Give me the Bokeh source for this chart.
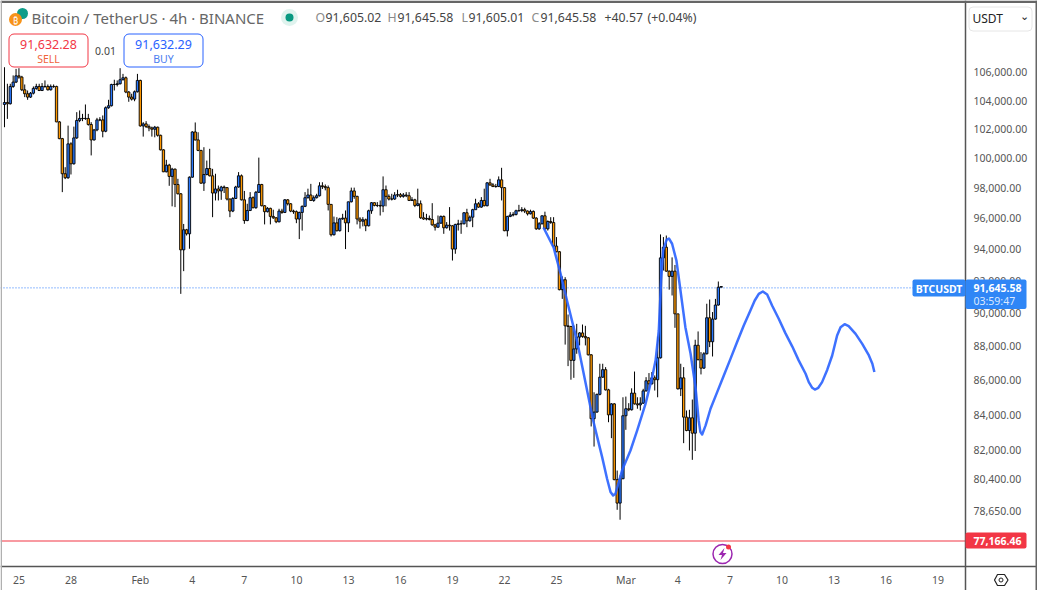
from bokeh.plotting import figure
from bokeh.models import (Range1d, FixedTicker, NumeralTickFormatter, Label, LinearAxis, LogAxis,
                          BoxAnnotation, PolyAnnotation)
from bokeh.embed import file_html
from bokeh.resources import INLINE

opens = [103720,103860,103770,105000,105310,105760,105670,104760,104480,104240,
104520,104860,105000,104710,105000,105000,104760,105000,105000,102500,
101340,98950,98680,100980,99620,101390,102600,102740,102740,102740,
102320,101250,101940,102640,102640,101850,103490,103630,105140,105140,
105190,105480,105620,104600,104240,104100,104620,105430,102220,102360,
102170,102080,101990,102130,101570,100570,99080,99530,98770,99260,
98230,97610,93960,95250,94990,98720,101800,101250,100530,98320,
98900,99300,98810,97660,97930,97800,98060,98020,97260,96470,
97300,98060,98810,97210,95850,96510,97350,96690,97710,98230,
96820,96430,96650,96120,96030,95770,96470,96380,97210,96950,
96470,96430,95950,96380,96780,97350,97530,97170,97350,97480,
98140,98090,98020,96910,94930,95700,95190,95960,96010,95700,
97080,97800,97440,95950,95810,95900,95510,96490,97020,96840,
96840,96800,97880,97440,97260,97260,97530,97550,97440,97530,
97480,97170,97210,96840,96950,96030,95950,95990,95920,95570,
95420,95680,96120,95380,95550,95510,94010,95600,95640,95640,
96360,95830,96070,96560,96950,96730,97170,96820,98340,98200,
98090,98090,98540,98020,95190,96120,96210,96250,96490,96510,
96560,96470,96290,96450,96010,95310,95640,96160,95310,95790,
95720,94200,93840,91450,92070,89230,89190,87160,87840,88550,
88800,88590,88510,87490,83770,84150,85170,86170,86610,85430,
83990,84620,80370,79100,80420,83940,84340,84280,85240,84620,
84560,84660,85370,85960,85780,86130,86020,87310,93450,94130,
92610,92280,92610,89960,85490,86130,83860,83100,83820,82950,
88060,87200,86700,87550,89720,88270,89640,90500,91605.02]

closes = [103860,103770,105000,105310,105760,105670,104760,104480,104240,104520,
104860,105000,104710,105000,105000,104760,105000,105000,102500,101340,
98950,98680,100980,99620,101390,102600,102740,102740,102740,102320,
101250,101940,102640,102640,101850,103490,103630,105140,105140,105190,
105480,105620,104600,104240,104100,104620,105430,102220,102360,102170,
102080,101990,102130,101570,100570,99080,99530,98770,99260,98230,
97610,93960,95250,94990,98720,101800,101250,100530,98320,98900,
99300,98810,97660,97930,97800,98060,98020,97260,96470,97300,
98060,98810,97210,95850,96510,97350,96690,97710,98230,96820,
96430,96650,96120,96030,95770,96470,96380,97210,96950,96470,
96430,95950,96380,96780,97350,97530,97170,97350,97480,98140,
98090,98020,96910,94930,95700,95190,95960,96010,95700,97080,
97800,97440,95950,95810,95900,95510,96490,97020,96840,96840,
96800,97880,97440,97260,97260,97530,97550,97440,97530,97480,
97170,97210,96840,96950,96030,95950,95990,95920,95570,95420,
95680,96120,95380,95550,95510,94010,95600,95640,95640,96360,
95830,96070,96560,96950,96730,97170,96820,98340,98200,98090,
98090,98540,98020,95190,96120,96210,96250,96490,96510,96560,
96470,96290,96450,96010,95310,95640,96160,95310,95790,95720,
94200,93840,91450,92070,89230,89190,87160,87840,88550,88800,
88590,88510,87490,83770,84150,85170,86170,86610,85430,83990,
84620,80370,79100,80420,83940,84340,84280,85240,84620,84560,
84660,85370,85960,85780,86130,86020,87310,93450,94130,92610,
92280,92610,89960,85490,86130,83860,83100,83820,82950,88060,
87200,86700,87550,89720,88270,89640,90500,91605,91645.58]

highs = [106380,105190,105190,105790,106260,106310,105760,105140,104710,104600,
105000,105190,105190,105240,105430,105140,105140,105140,105050,102550,
101390,99390,102240,101090,102170,103180,103300,103060,103720,103060,
102480,102010,102780,102830,102950,103580,104050,105190,105480,105430,
106310,105900,105710,104670,104480,104710,105900,105480,102480,102550,
102320,102170,102220,102170,101610,100620,99890,99620,99350,99300,
98610,97660,95630,95310,98770,101850,102460,101780,100570,100750,
99840,100640,99280,98950,98160,98140,98160,98060,97300,97390,
98140,99060,98900,97800,96950,97720,97440,97800,100040,98270,
96860,96730,96690,96560,96070,96620,96620,97260,97260,96990,
96560,96510,96430,96840,97720,97950,98270,97500,97610,98380,
98380,98230,98160,96930,96110,96070,96030,96290,96510,97080,
98020,98020,97480,96070,96070,95980,96560,97060,97040,97060,
97170,98770,98160,97570,97610,97720,97880,97660,97660,97720,
97720,97390,97280,97950,97170,96400,96290,96180,96990,95640,
96180,96180,96180,95750,96730,95550,95640,95900,95860,96400,
96620,96180,96620,97280,97060,97390,97950,98380,98610,98320,
98270,98770,99350,98060,96160,96400,96400,96560,96880,96730,
96690,96510,96560,96510,96070,95750,96180,96430,95860,96070,
96070,94780,93880,92280,92230,89920,89230,89250,89350,88850,
89310,89230,88550,87530,85290,85210,86960,86960,86760,85490,
84660,84660,80870,80610,85000,85040,84660,85520,86500,85000,
85000,85490,86170,86410,86470,86270,88590,94950,94780,94880,
92650,93480,93000,89800,86960,86760,84240,84280,84870,88390,
88890,87650,87650,90580,90840,90070,90880,91960,91645.58]

lows = [102130,102710,103720,104900,105240,105550,104670,104240,104050,104190,
104430,104760,104670,104670,104900,104710,104710,104900,102480,101300,
97720,98590,98610,98900,99570,101320,102480,102550,102640,102240,
100190,101210,101850,102550,101430,101780,103420,103580,104710,105000,
105140,105430,104520,103910,104000,103950,104570,102170,101480,102080,
101850,101480,101430,101480,100530,99060,99040,98140,96780,96730,
97570,91190,92610,94880,94030,98680,101210,100480,98270,97800,
98840,98770,96070,97170,97170,97210,97660,97170,96070,96400,
97260,98020,97170,95640,95810,96470,96650,96620,97660,96780,
95600,96380,95600,95960,95680,95730,96290,96340,96840,96400,
96290,95680,94650,95200,96730,97300,97130,97080,97300,97430,
97930,97840,96510,94820,94880,95140,95140,95900,94010,95100,
97040,97280,95600,95330,95470,95160,95470,96290,96780,96730,
96180,96400,96780,97170,97170,97210,97390,97350,97350,97390,
97130,97130,96730,96780,95960,95900,95860,95860,95510,95200,
95380,95640,94990,95330,95200,93280,93710,95200,94990,95600,
95420,95790,95420,96840,96690,96690,96780,96780,98140,98060,
98020,98060,97170,95160,94820,96070,96120,96180,96430,96400,
96340,96180,96250,95960,95250,95250,95600,95270,95200,95640,
94120,93800,91410,90880,88100,86820,86020,86130,87550,88050,
88510,88050,87450,83330,82200,84110,85110,86130,85390,83570,
82670,80340,78740,78210,80400,83140,84200,84240,84580,84340,
84240,84620,85330,85430,85740,85390,85000,87270,92650,92570,
91450,91090,89110,85450,85070,82390,83060,81980,81460,81950,
87160,86330,86660,87510,87950,87390,89600,90470,91605.01]

bars = list(range(len(closes)))

# hand-drawn projection line: bar position and price
sketch_bar = [186.5,190,192.4,194.8,198.3,203.7,205.1,206.8,208.5,209.7,210.6,211.4,213.7,216.6,218.9,
221.8,224.1,225.3,226.4,227.2,227.9,229.1,229.9,231,232.5,233.9,235.6,237.4,239.1,240.2,240.8,241.4,
242.6,244.3,246.6,248.9,251.2,253.5,255.8,258.1,259.6,261,262.4,263.9,265.6,267.9,270.2,272.6,274.8,
277.2,278.3,279.5,280.4,281.6,282.9,284.7,286.4,288.1,289.3,290.7,292.1,294.5,296.8,299.1,300.3,301]
sketch_price = [95400,94110,92460,90660,88170,83670,82730,81610,80420,79700,79510,79600,80880,81980,83100,
84620,86170,87160,88950,92020,93920,94600,94690,94350,93280,91400,89150,87550,85590,83670,83010,82880,
83390,84340,85300,86270,87250,88250,89250,90170,90780,91190,91340,91150,90470,89660,88790,87980,87160,
86370,85880,85550,85450,85550,85880,86610,87450,88650,89150,89330,89210,88745,88140,87450,86960,86470]

price_ticks = [78650,80400,82000,84000,86000,88000,90000,92000,94000,96000,98000,100000,102000,104000,106000]
date_ticks = [5,23,47,65,83,101,119,137,155,173,191,215,233,251,269,287,305,323]
date_labels = ["25","28","Feb","4","7","10","13","16","19","22","25","Mar","4","7","10","13","16","19"]
# horizontal lines, at the height where the picture has them
last_price_line = 91562
stop_price_line = 77088

FONT = "Noto Sans"
UP = "#2979ff"
DOWN = "#ff9800"
RED = "#f23645"
TXT = "#555555"

BAR_LEFT, BAR_RIGHT, BAR_AXIS = -1.384, 357.44, 332.526
PRICE_LOW, PRICE_HIGH, PRICE_AXIS = 74537, 111317, 75760

p = figure(width=1037, height=590, output_backend="svg", toolbar_location=None,
           y_axis_type="log", x_axis_location=None, y_axis_location=None,
           x_range=Range1d(BAR_LEFT, BAR_RIGHT), y_range=Range1d(PRICE_LOW, PRICE_HIGH),
           min_border=0, background_fill_color="white", outline_line_color=None)
p.grid.visible = False

yax = LogAxis(fixed_location=BAR_AXIS, ticker=FixedTicker(ticks=price_ticks),
              formatter=NumeralTickFormatter(format="0,0.00"), major_label_standoff=8)
xax = LinearAxis(fixed_location=PRICE_AXIS, ticker=FixedTicker(ticks=date_ticks),
                 major_label_overrides=dict(zip(date_ticks, date_labels)), major_label_standoff=6)
for ax in (xax, yax):
    ax.major_tick_line_color = None
    ax.minor_tick_line_color = None
    ax.major_tick_out = 0
    ax.major_tick_in = 0
    ax.axis_line_color = "#555555"
    ax.axis_line_width = 1.5
    ax.major_label_text_color = TXT
    ax.major_label_text_font = FONT
    ax.major_label_text_font_size = "10.5px"
p.add_layout(yax, "right")
p.add_layout(xax, "below")

p.line([BAR_LEFT, BAR_AXIS], [last_price_line, last_price_line], line_color=UP, line_width=1, line_dash=[1, 2])
p.line([BAR_LEFT, BAR_AXIS], [stop_price_line, stop_price_line], line_color=RED, line_width=1.2)

p.segment(bars, highs, bars, lows, line_color="black", line_width=1)
body_colors = [UP if c >= o else DOWN for o, c in zip(opens, closes)]
p.vbar(x=bars, width=0.8, top=closes, bottom=opens, fill_color=body_colors, line_color="black", line_width=0.9)
p.line(sketch_bar, sketch_price, line_color="#2962ff", line_width=2.5, line_alpha=0.9, line_join="round")


def box(l, t, r, b, fill=None, line=None, radius=0, lw=1, alpha=1):
    p.add_layout(BoxAnnotation(left=l, right=r, top=t, bottom=b, left_units="canvas", right_units="canvas",
                               top_units="canvas", bottom_units="canvas", fill_color=fill, fill_alpha=alpha,
                               line_color=line, line_alpha=1, line_width=lw, border_radius=radius))


def text(x, y, s, size, color=TXT, align="left", style="normal", font=FONT):
    p.add_layout(Label(x=x, y=y, x_units="canvas", y_units="canvas", text=s, text_font=font,
                       text_font_size=f"{size}px", text_color=color, text_align=align,
                       text_baseline="middle", text_font_style=style))


# outer frame
box(0, 0, 1037, 2.5, fill="#666666")
box(0, 0, 1.5, 590, fill="#b0b0b0")
box(1035, 0, 1037, 590, fill="#666666")

# symbol header
box(22 - 5.5, 13 - 5.5, 22 + 5.5, 13 + 5.5, fill="#0f9d8a", radius=6)
box(15 - 6.5, 19 - 6.5, 15 + 6.5, 19 + 6.5, fill="#f7931a", radius=7)
text(15, 19.5, "₿", 9, color="white", align="center")
text(31, 17, "Bitcoin / TetherUS · 4h · BINANCE", 15, color="#666666")
box(289 - 8.5, 17 - 8.5, 289 + 8.5, 17 + 8.5, fill="#dff3ee", radius=9)
box(289 - 4, 17 - 4, 289 + 4, 17 + 4, fill="#089981", radius=4)
for lx, letter, vx, value in [(315, "O", 325, "91,605.02"), (387, "H", 397, "91,645.58"),
                              (461, "L", 468, "91,605.01"), (531, "C", 540, "91,645.58")]:
    text(lx, 17, letter, 12.3, color="#8a8a8a")
    text(vx, 17, value, 12.3, color="#444444")
text(604, 17, "+40.57", 12.3, color="#444444")
text(647, 17, "(+0.04%)", 12.3, color="#444444")

# sell / buy
box(8.5, 33.5, 87.5, 66.5, fill="white", line=RED, radius=5)
text(48, 44, "91,632.28", 12.5, color=RED, align="center")
text(48, 58, "SELL", 10.5, color="#f0643c", align="center")
text(105, 50, "0.01", 10.5, color="#444444", align="center")
box(123.5, 33.5, 202.5, 66.5, fill="white", line="#2962ff", radius=5)
text(163, 44, "91,632.29", 12.5, color="#2962ff", align="center")
text(163, 58, "BUY", 10.5, color="#4a7df0", align="center")

# currency picker
box(968.5, 6.5, 1031.5, 30.5, fill="white", line="#e6e6e6", radius=4)
text(972, 18, "USDT", 12, color="#222222")
text(1024, 16, "⌄", 11, color="#222222", align="center", font="DejaVu Sans")

# last price tags
box(912, 279, 965, 296, fill="#2f86f6", radius=2)
text(938.5, 288, "BTCUSDT", 10.5, color="white", align="center", style="bold")
box(965, 279, 1026, 308.5, fill="#2f86f6", radius=2)
text(973, 287.5, "91,645.58", 10.5, color="white", style="bold")
text(973, 300, "03:59:47", 10.5, color="#dbe8ff")
box(965, 532, 1026, 548, fill=RED, radius=2)
text(973, 540, "77,166.46", 10.5, color="white", style="bold")

# event badge
box(722 - 9.5, 553.5 - 9.5, 722 + 9.5, 553.5 + 9.5, fill="white", line="#9c27b0", radius=10, lw=1.5)
p.add_layout(PolyAnnotation(xs=[724, 718, 721.5, 720, 726, 722.5], ys=[547.5, 554.5, 554.5, 559.5, 552.5, 552.5],
                            xs_units="canvas", ys_units="canvas", fill_color="#9c27b0", fill_alpha=1, line_color=None))
box(728 - 2.5, 546.5 - 2.5, 728 + 2.5, 546.5 + 2.5, fill=RED, radius=3)

# settings hexagon
p.add_layout(PolyAnnotation(xs=[994, 997, 1004, 1007.5, 1004, 997], ys=[579.5, 574, 574, 579.5, 585, 585],
                            xs_units="canvas", ys_units="canvas", fill_color="white", fill_alpha=0,
                            line_color="#222222", line_alpha=1, line_width=1.2))
box(998.5, 577.5, 1002.5, 581.5, fill="white", line="#222222", radius=2)

open("out.html", "w").write(file_html(p, INLINE))
